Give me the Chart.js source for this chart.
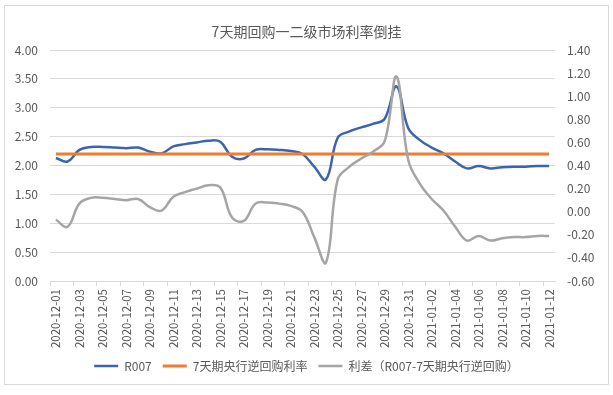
<!DOCTYPE html>
<html>
<head>
<meta charset="utf-8">
<script src="https://cdn.jsdelivr.net/npm/chart.js@4.4.1/dist/chart.umd.min.js"></script>
<style>
  html, body { margin: 0; padding: 0; background: #fff; }
</style>
</head>
<body>
<canvas id="chart" width="613" height="395"></canvas>
<script>
const dates = [
  "2020-12-01", "2020-12-02", "2020-12-03", "2020-12-04", "2020-12-05", "2020-12-06", "2020-12-07",
  "2020-12-08", "2020-12-09", "2020-12-10", "2020-12-11", "2020-12-12", "2020-12-13", "2020-12-14",
  "2020-12-15", "2020-12-16", "2020-12-17", "2020-12-18", "2020-12-19", "2020-12-20", "2020-12-21",
  "2020-12-22", "2020-12-23", "2020-12-24", "2020-12-25", "2020-12-26", "2020-12-27", "2020-12-28",
  "2020-12-29", "2020-12-30", "2020-12-31", "2021-01-01", "2021-01-02", "2021-01-03", "2021-01-04",
  "2021-01-05", "2021-01-06", "2021-01-07", "2021-01-08", "2021-01-09", "2021-01-10", "2021-01-11",
  "2021-01-12"
]

const r007 = [
  2.13, 2.07, 2.27, 2.32, 2.32, 2.31, 2.30, 2.31, 2.24, 2.21,
  2.33, 2.37, 2.40, 2.43, 2.41, 2.15, 2.12, 2.27, 2.28, 2.27,
  2.25, 2.20, 1.98, 1.76, 2.48, 2.59, 2.66, 2.72, 2.81, 3.37,
  2.65, 2.44, 2.31, 2.21, 2.07, 1.95, 1.99, 1.95, 1.97, 1.98,
  1.98, 1.99, 1.99
]

const reverseRepo = [
  2.20, 2.20, 2.20, 2.20, 2.20, 2.20, 2.20, 2.20, 2.20, 2.20,
  2.20, 2.20, 2.20, 2.20, 2.20, 2.20, 2.20, 2.20, 2.20, 2.20,
  2.20, 2.20, 2.20, 2.20, 2.20, 2.20, 2.20, 2.20, 2.20, 2.20,
  2.20, 2.20, 2.20, 2.20, 2.20, 2.20, 2.20, 2.20, 2.20, 2.20,
  2.20, 2.20, 2.20
]

const spread = [
  -0.07, -0.13, 0.07, 0.12, 0.12, 0.11, 0.10, 0.11, 0.04, 0.01,
  0.13, 0.17, 0.20, 0.23, 0.21, -0.05, -0.08, 0.07, 0.08, 0.07,
  0.05, 0.00, -0.22, -0.44, 0.28, 0.39, 0.46, 0.52, 0.61, 1.17,
  0.45, 0.24, 0.11, 0.01, -0.13, -0.25, -0.21, -0.25, -0.23, -0.22,
  -0.22, -0.21, -0.21
]

const FONT = "'Noto Sans CJK SC', 'Noto Sans', sans-serif"
const TEXT = "#595959"
const GRID = "#d9d9d9"

const frame = {
  id: "frame",
  beforeDraw(chart) {
    const ctx = chart.ctx
    ctx.save()
    ctx.fillStyle = "#ffffff"
    ctx.fillRect(0, 0, chart.width, chart.height)
    ctx.strokeStyle = GRID
    ctx.lineWidth = 1
    ctx.strokeRect(4.5, 5.5, 604, 379)
    ctx.restore()
  }
}

new Chart(document.getElementById("chart"), {
  type: "line",
  data: {
    labels: dates,
    datasets: [
      {
        label: "R007",
        data: r007,
        yAxisID: "y",
        borderColor: "#3B64AD",
        backgroundColor: "#3B64AD",
        borderWidth: 2.5,
        pointRadius: 0,
        tension: 0.4,
        order: 2
      },
      {
        label: "7天期央行逆回购利率",
        data: reverseRepo,
        yAxisID: "y",
        borderColor: "#ED7D31",
        backgroundColor: "#ED7D31",
        borderWidth: 3,
        pointRadius: 0,
        order: 1
      },
      {
        label: "利差（R007-7天期央行逆回购）",
        data: spread,
        yAxisID: "y1",
        borderColor: "#A5A5A5",
        backgroundColor: "#A5A5A5",
        borderWidth: 2.5,
        pointRadius: 0,
        tension: 0.4,
        order: 0
      }
    ]
  },
  options: {
    responsive: false,
    animation: false,
    events: [],
    layout: {
      padding: { left: 5, right: 5, top: 5, bottom: 13 }
    },
    plugins: {
      title: {
        display: true,
        text: "7天期回购一二级市场利率倒挂",
        color: TEXT,
        font: { family: FONT, size: 14, weight: "normal" },
        padding: { top: 18.6, bottom: 9.6 }
      },
      legend: {
        position: "bottom",
        labels: {
          usePointStyle: true,
          pointStyle: "line",
          pointStyleWidth: 24,
          boxHeight: 12,
          padding: 11,
          color: TEXT,
          font: { family: FONT, size: 12 },
          sort: (a, b) => a.datasetIndex - b.datasetIndex
        }
      },
      tooltip: { enabled: false }
    },
    scales: {
      x: {
        offset: true,
        grid: {
          offset: true,
          drawOnChartArea: false,
          drawTicks: true,
          tickLength: 5,
          color: ctx => ctx.index % 2 === 0 ? GRID : "rgba(0,0,0,0)"
        },
        border: { color: GRID },
        ticks: {
          autoSkip: false,
          minRotation: 90,
          maxRotation: 90,
          padding: 3,
          color: TEXT,
          font: { family: FONT, size: 11.5 },
          callback(value, index) {
            return index % 2 === 0 ? this.getLabelForValue(value) : ""
          }
        },
        afterFit(scale) { scale.height = 68 }
      },
      y: {
        position: "left",
        min: 0,
        max: 4,
        grid: { color: GRID, drawTicks: false },
        border: { display: false },
        ticks: {
          stepSize: 0.5,
          padding: 12,
          color: TEXT,
          font: { family: FONT, size: 12 },
          callback: v => v.toFixed(2)
        },
        afterFit(scale) { scale.width = 45 }
      },
      y1: {
        position: "right",
        min: -0.6,
        max: 1.4,
        grid: { drawOnChartArea: false, drawTicks: false },
        border: { display: false },
        ticks: {
          stepSize: 0.2,
          padding: 12,
          color: TEXT,
          font: { family: FONT, size: 12 },
          callback: v => v.toFixed(2)
        },
        afterFit(scale) { scale.width = 53 }
      }
    }
  },
  plugins: [frame]
})
</script>
</body>
</html>
